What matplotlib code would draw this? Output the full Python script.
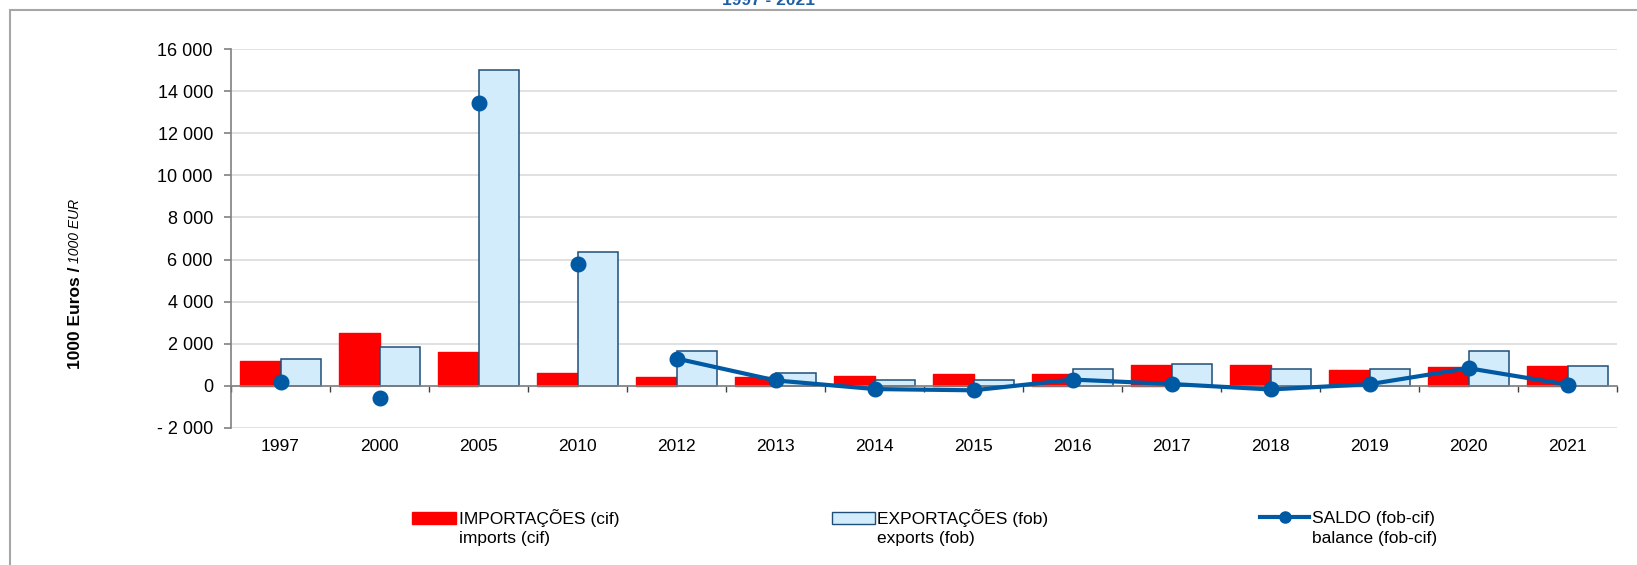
import numpy as np
import matplotlib
matplotlib.use("Agg")
import matplotlib.pyplot as plt
from matplotlib.patches import Patch, Rectangle
from matplotlib.lines import Line2D
from matplotlib.ticker import FuncFormatter, FixedLocator
from matplotlib.transforms import blended_transform_factory

plt.rcParams['font.family'] = ['Liberation Sans', 'DejaVu Sans']

# valores em 1000 EUR
anos = ["1997", "2000", "2005", "2010", "2012", "2013", "2014", "2015",
        "2016", "2017", "2018", "2019", "2020", "2021"]
importacoes = [1180, 2500, 1600, 620, 420, 420, 480, 580, 560, 1010, 1010, 770, 920, 950]
exportacoes = [1270, 1830, 14980, 6350, 1640, 600, 280, 300, 780, 1040, 780, 800, 1660, 950]
saldo = [170, -590, 13420, 5800, 1300, 260, -150, -210, 300, 90, -170, 80, 840, 60]
# os primeiros anos aparecem só como pontos soltos
n_soltos = 4

VERMELHO = "#FF0000"
AZUL_CLARO = "#D3ECFB"
AZUL_BORDA = "#1F4E79"
AZUL_LINHA = "#0059A3"
CINZA = "#808080"

W, H = 1637, 565
fig = plt.figure(figsize=(W / 100, H / 100), dpi=100)
ax = fig.add_axes([231 / W, 1 - 428 / H, (1617 - 231) / W, (428 - 49) / H])

x = np.arange(len(anos))
larg = 0.41
ax.bar(x - larg / 2, importacoes, width=larg, color=VERMELHO, edgecolor=VERMELHO,
       linewidth=1, joinstyle="round", zorder=2)
ax.bar(x + larg / 2, exportacoes, width=larg, color=AZUL_CLARO, edgecolor=AZUL_BORDA,
       linewidth=1.1, zorder=2)
ax.plot(x[:n_soltos], saldo[:n_soltos], linestyle="none", marker="o", markersize=10.5,
        color=AZUL_LINHA, zorder=4)
ax.plot(x[n_soltos:], saldo[n_soltos:], linestyle="-", linewidth=3, marker="o",
        markersize=10.5, color=AZUL_LINHA, zorder=4)

ax.set_xlim(-0.5, len(anos) - 0.5)
ax.set_ylim(-2000, 16000)
ax.set_yticks(np.arange(-2000, 16001, 2000))


def fmt(v, pos):
    s = f"{abs(int(v)):,}".replace(",", " ")
    return ("- " + s) if v < 0 else s


ax.yaxis.set_major_formatter(FuncFormatter(fmt))
ax.grid(axis="y", color="#D9D9D9", linewidth=1.1, zorder=0)
ax.set_axisbelow(True)

for s in ["top", "right"]:
    ax.spines[s].set_visible(False)
ax.spines["left"].set_color(CINZA)
ax.spines["left"].set_linewidth(1.2)
ax.spines["bottom"].set_position(("data", 0))
ax.spines["bottom"].set_color(CINZA)
ax.spines["bottom"].set_linewidth(1.2)
ax.spines["bottom"].set_zorder(3)

ax.xaxis.set_major_locator(FixedLocator(np.arange(-0.5, len(anos), 1.0)))
ax.set_xticklabels([])
ax.tick_params(axis="x", direction="out", length=4, width=1, color="#404040")
ax.tick_params(axis="y", direction="out", length=5, width=1.2, color=CINZA,
               labelsize=13, pad=8)

trans = blended_transform_factory(ax.transData, ax.transAxes)
for i, a in enumerate(anos):
    ax.text(i, -0.05, a, transform=trans, ha="center", va="center", fontsize=12.5)

# eixo y
fig.text(75 / W, 1 - 318 / H, "1000 Euros /", rotation=90, ha="center", va="center",
         fontsize=12.5, fontweight="bold")
fig.text(75 / W, 1 - 231 / H, "1000 EUR", rotation=90, ha="center", va="center",
         fontsize=10, fontstyle="italic")

# moldura e título
fig.patches.append(Rectangle((10 / W, -0.1), 1.2, 1.1 - 10 / H, transform=fig.transFigure,
                             fill=False, edgecolor="#A6A6A6", linewidth=1.5))
fig.text(815 / W, 1 - 5 / H, "1997 - 2021", ha="right", va="baseline", fontsize=12.5,
         fontweight="bold", color="#1F5FA8")

# legenda
itens = [
    (Patch(facecolor=VERMELHO, edgecolor=VERMELHO), "IMPORTAÇÕES (cif)", "imports (cif)", 412, 2.55),
    (Patch(facecolor=AZUL_CLARO, edgecolor=AZUL_BORDA), "EXPORTAÇÕES (fob)", "exports (fob)", 832, 2.45),
    (Line2D([], [], color=AZUL_LINHA, linewidth=3, marker="o", markersize=8), "SALDO (fob-cif)",
     "balance (fob-cif)", 1260, 2.85),
]
fs_leg = 12.5
for h, l1, l2, x0, hl in itens:
    fig.legend(handles=[h], labels=[l1], loc="center left", bbox_to_anchor=(x0 / W, 1 - 518 / H),
               frameon=False, borderpad=0, borderaxespad=0, handlelength=hl, handleheight=0.7,
               handletextpad=0.15, fontsize=fs_leg)
    xt = x0 + (hl + 0.15) * fs_leg * 100 / 72
    fig.text(xt / W, 1 - 539 / H, l2, ha="left", va="center", fontsize=fs_leg)

fig.savefig("out.png", dpi=100)
